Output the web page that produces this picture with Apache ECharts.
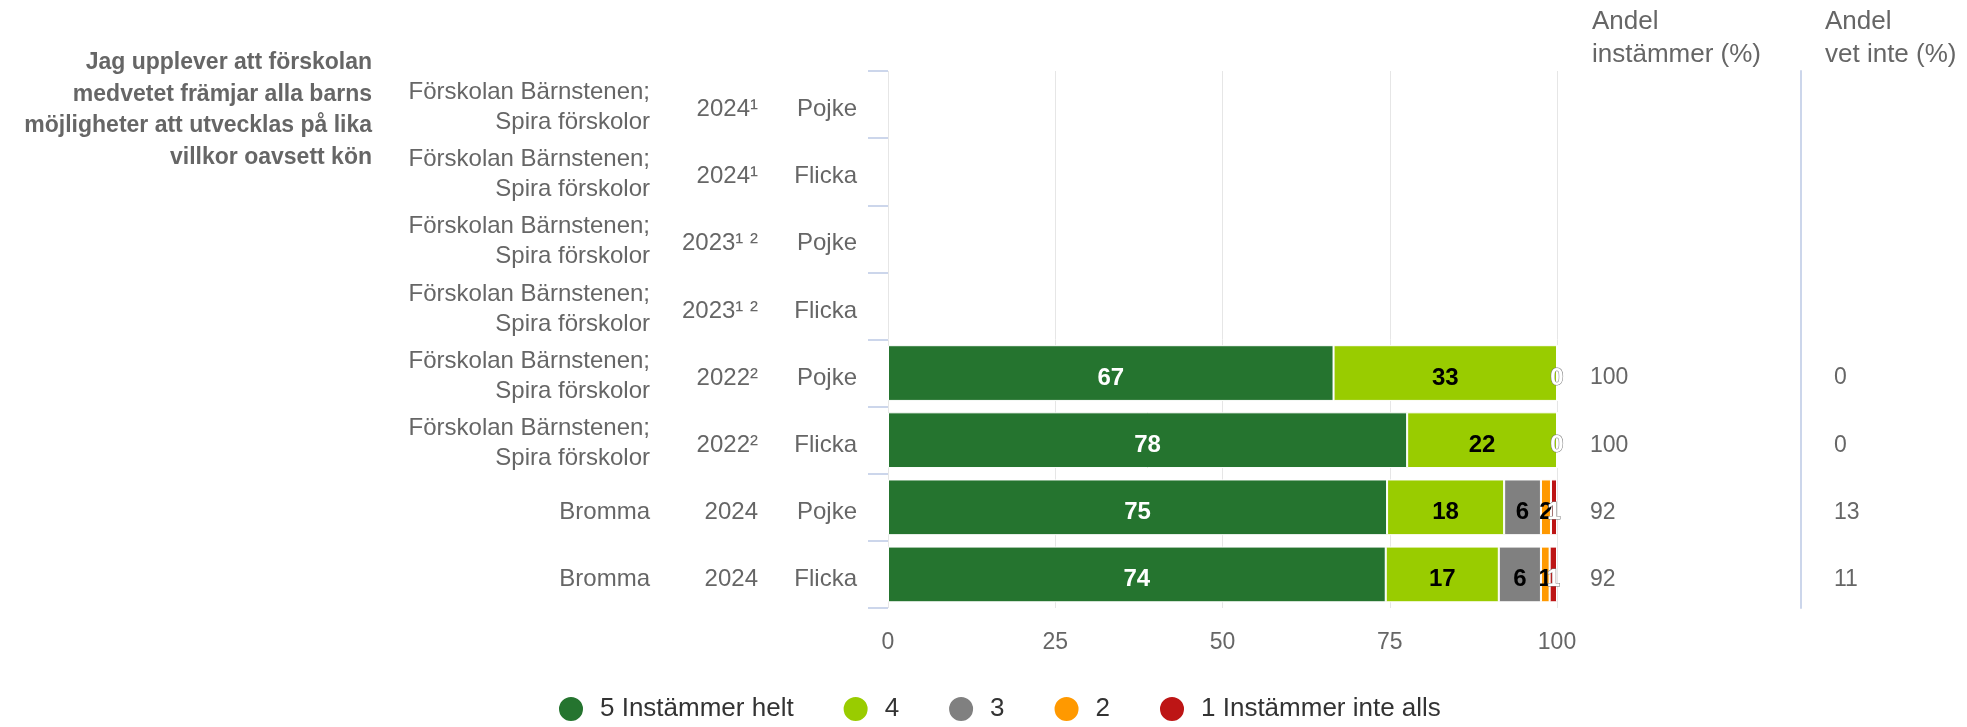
<!DOCTYPE html>
<html>
<head>
<meta charset="utf-8">
<script src="https://cdn.jsdelivr.net/npm/echarts@6/dist/echarts.min.js"></script>
<style>
html, body { margin: 0; padding: 0; background: #fff; }
#main { width: 1967px; height: 727px; }
</style>
</head>
<body>
<div id="main"></div>
<script>
// question + row labels
var question = 'Jag upplever att förskolan\nmedvetet främjar alla barns\nmöjligheter att utvecklas på lika\nvillkor oavsett kön';
var units = [
    'Förskolan Bärnstenen;\nSpira förskolor', 'Förskolan Bärnstenen;\nSpira förskolor',
    'Förskolan Bärnstenen;\nSpira förskolor', 'Förskolan Bärnstenen;\nSpira förskolor',
    'Förskolan Bärnstenen;\nSpira förskolor', 'Förskolan Bärnstenen;\nSpira förskolor',
    'Bromma', 'Bromma'
];
var years = ['2024¹', '2024¹', '2023¹ ²', '2023¹ ²', '2022²', '2022²', '2024', '2024'];
var genders = ['Pojke', 'Flicka', 'Pojke', 'Flicka', 'Pojke', 'Flicka', 'Pojke', 'Flicka'];

// series (share in %, empty rows = null)
var seriesNames = ['5 Instämmer helt', '4', '3', '2', '1 Instämmer inte alls'];
var seriesColors = ['#25742f', '#99cc00', '#808080', '#ff9900', '#bd1515'];
var labelColors = ['#ffffff', '#000000', '#000000', '#000000', '#ffffff'];
var share5 = [null, null, null, null, 66.6, 77.6, 74.6, 74.4];
var share4 = [null, null, null, null, 33.4, 22.4, 17.5, 16.9];
var share3 = [null, null, null, null, 0, 0, 5.5, 6.3];
var share2 = [null, null, null, null, 0, 0, 1.5, 1.3];
var share1 = [null, null, null, null, 0, 0, 0.9, 1.1];

// right columns
var andelInstammer = [null, null, null, null, 100, 100, 92, 92];
var andelVetInte = [null, null, null, null, 0, 0, 13, 11];

// x axis ticks
var xTicks = [0, 25, 50, 75, 100];

var FONT = "'Liberation Sans', Arial, sans-serif";
var allShares = [share5, share4, share3, share2, share1];

function toText(arr) {
    return arr.map(function (v) { return v == null ? '' : String(v); });
}

// labels sit a bit below the row centre, a small spacer line pushes them down
function labelAxis(data, position, margin, fontSize, extra) {
    var ax = {
        type: 'category',
        data: data,
        inverse: true,
        position: position,
        axisLine: { show: false, onZero: false },
        axisTick: { show: false },
        splitLine: { show: false },
        axisLabel: {
            interval: 0,
            showMinLabel: true,
            showMaxLabel: true,
            margin: margin,
            formatter: function (v) {
                if (v === '') return '';
                var lines = v.split('\n');
                var sp = lines.length > 1 ? 'm' : 's';
                return '{' + sp + '| }\n{t|' + lines.join('}\n{t|') + '}';
            },
            rich: {
                s: { fontSize: 1, lineHeight: 10 },
                m: { fontSize: 1, lineHeight: 6 },
                t: { fontSize: fontSize, fontFamily: FONT, color: '#666666', lineHeight: 30 }
            }
        }
    };
    if (extra) extra(ax);
    return ax;
}

var series = [];
for (var s = 0; s < allShares.length; s++) {
    (function (idx) {
        series.push({
            name: seriesNames[idx],
            type: 'bar',
            stack: 'total',
            yAxisIndex: 0,
            barCategoryGap: '17%',
            data: allShares[idx],
            itemStyle: { color: seriesColors[idx], borderColor: '#ffffff', borderWidth: 1 },
            label: {
                show: true,
                position: 'inside',
                offset: [0, 5],
                fontSize: 24,
                fontWeight: 'bold',
                fontFamily: FONT,
                color: labelColors[idx],
                textBorderColor: idx === 4 ? '#777777' : 'transparent',
                textBorderWidth: idx === 4 ? 1 : 0,
                formatter: function (p) {
                    if (p.value == null) return '';
                    if (p.value === 0 && idx !== 4) return '';
                    return String(Math.round(p.value));
                }
            }
        });
    })(s);
}

var myChart = echarts.init(document.getElementById('main'));
var option = {
    animation: false,
    grid: { left: 888, right: 410, top: 71, bottom: 119 },
    xAxis: {
        type: 'value',
        min: xTicks[0],
        max: xTicks[xTicks.length - 1],
        interval: xTicks[1] - xTicks[0],
        axisLine: { show: false },
        axisTick: { show: false },
        splitLine: { lineStyle: { color: '#e6e6e6', width: 1 } },
        axisLabel: { margin: 23, fontSize: 23, fontFamily: FONT, color: '#666666' }
    },
    yAxis: [
        labelAxis(genders, 'left', 31, 24, function (ax) {
            ax.axisTick = { show: true, length: 20, lineStyle: { color: '#ccd6eb', width: 2 } };
        }),
        labelAxis(years, 'left', 130, 24),
        labelAxis(units, 'left', 238, 24),
        labelAxis(toText(andelInstammer), 'right', 33, 23, function (ax) {
            ax.axisLabel.align = 'left';
        }),
        labelAxis(toText(andelVetInte), 'right', 33, 23, function (ax) {
            ax.offset = 244;
            ax.axisLabel.align = 'left';
            ax.axisLine = { show: true, onZero: false, lineStyle: { color: '#ccd6eb', width: 2 } };
        })
    ],
    legend: {
        data: seriesNames,
        left: 557,
        top: 695,
        padding: 0,
        icon: 'circle',
        itemWidth: 26,
        itemHeight: 26,
        itemGap: 48,
        textStyle: { fontSize: 26, fontFamily: FONT, color: '#333333', padding: [0, 0, 0, 11] }
    },
    graphic: [
        {
            type: 'text',
            x: 372,
            y: 47,
            style: {
                text: question,
                textAlign: 'right',
                textVerticalAlign: 'top',
                fontSize: 23,
                fontWeight: 'bold',
                fontFamily: FONT,
                lineHeight: 31.5,
                fill: '#666666'
            }
        },
        {
            type: 'text',
            x: 1592,
            y: 5,
            style: {
                text: 'Andel\ninstämmer (%)',
                textVerticalAlign: 'top',
                fontSize: 26,
                fontFamily: FONT,
                lineHeight: 33,
                fill: '#666666'
            }
        },
        {
            type: 'text',
            x: 1825,
            y: 5,
            style: {
                text: 'Andel\nvet inte (%)',
                textVerticalAlign: 'top',
                fontSize: 26,
                fontFamily: FONT,
                lineHeight: 33,
                fill: '#666666'
            }
        }
    ],
    series: series
};
myChart.setOption(option);
</script>
</body>
</html>
